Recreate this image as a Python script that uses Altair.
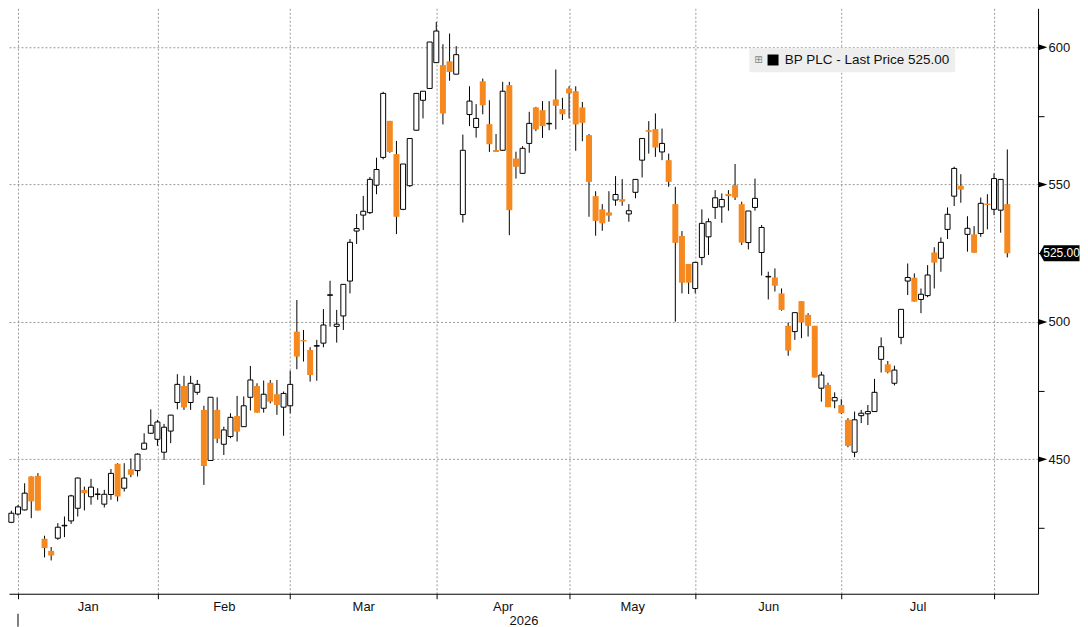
import altair as alt
import pandas as pd

# ---- data (trading-day index 0 = 31 Dec 2025) ----
OPEN = [427.1, 430.1, 431.6, 443.8, 444.0, 421.1, 416.7, 421.3, 425.8, 427.6,
        432.2, 438.9, 436.4, 437.2, 433.7, 437.2, 448.4, 439.5, 446.4, 445.9,
        453.7, 459.5, 457.3, 452.6, 460.3, 470.7, 476.7, 470.7, 474.4, 468.0,
        449.6, 468.0, 455.5, 458.3, 465.8, 461.9, 472.6, 476.7, 468.6, 477.9,
        473.7, 469.0, 469.5, 496.5, 493.4, 489.8, 491.2, 492.3, 509.7, 498.4,
        502.2, 514.9, 533.1, 538.9, 539.8, 549.8, 559.9, 573.2, 561.1, 541.0,
        549.6, 569.8, 580.7, 585.0, 594.4, 593.5, 594.9, 590.2, 539.1, 575.5,
        570.8, 587.6, 572.0, 562.6, 562.5, 586.2, 559.5, 554.1, 565.0, 578.1,
        577.1, 572.1, 581.0, 577.5, 585.0, 584.0, 578.1, 568.0, 545.8, 541.0,
        539.9, 544.4, 544.7, 539.3, 547.2, 558.9, 569.8, 570.2, 561.9, 558.9,
        542.9, 531.3, 521.1, 512.2, 523.5, 531.0, 541.7, 541.9, 546.6, 549.8,
        542.9, 528.9, 541.7, 525.3, 516.4, 516.2, 510.4, 498.6, 496.5, 507.6,
        502.6, 498.6, 475.9, 477.1, 471.3, 469.8, 464.4, 452.6, 465.9, 466.6,
        467.4, 486.4, 484.6, 477.7, 494.4, 514.9, 516.1, 508.2, 509.6, 525.3,
        523.2, 533.7, 545.8, 549.6, 531.9, 531.9, 532.2, 543.1, 541.0, 540.7,
        542.9]
HIGH = [431.3, 433.4, 441.3, 443.8, 445.0, 422.2, 418.1, 426.8, 429.2, 437.1,
        443.4, 440.1, 442.9, 439.5, 438.9, 446.5, 448.6, 448.6, 450.3, 452.2,
        459.5, 468.2, 464.4, 462.9, 466.2, 481.0, 480.4, 480.4, 478.9, 469.5,
        472.6, 472.6, 461.9, 466.8, 473.1, 472.9, 484.0, 477.7, 478.7, 478.9,
        478.9, 474.7, 482.3, 508.0, 497.1, 490.8, 493.5, 504.7, 515.0, 504.4,
        513.7, 530.2, 539.3, 545.9, 552.8, 559.8, 583.8, 573.2, 565.9, 557.5,
        566.8, 583.2, 584.0, 601.9, 609.2, 601.1, 605.0, 600.4, 568.2, 585.8,
        579.3, 588.6, 580.7, 568.4, 587.4, 587.4, 562.0, 564.0, 576.5, 578.3,
        580.4, 580.4, 591.9, 581.6, 585.8, 585.8, 580.1, 568.4, 547.6, 542.9,
        547.6, 553.1, 552.0, 542.9, 551.9, 566.8, 573.1, 575.9, 570.4, 561.3,
        549.2, 533.1, 521.1, 521.7, 541.0, 537.7, 548.0, 546.8, 548.0, 557.5,
        543.8, 540.4, 552.2, 535.3, 518.3, 519.5, 512.2, 499.8, 503.4, 507.6,
        503.2, 498.6, 481.9, 477.9, 474.4, 471.9, 465.0, 467.4, 468.0, 469.8,
        479.3, 494.4, 485.8, 484.1, 504.6, 521.3, 517.7, 512.2, 520.7, 527.2,
        530.8, 541.7, 556.5, 553.8, 538.5, 534.9, 545.3, 546.5, 554.1, 551.9,
        562.8]
LOW = [426.8, 429.5, 431.4, 428.6, 431.4, 414.3, 413.2, 420.7, 421.7, 426.5,
       429.2, 431.4, 433.5, 435.3, 432.5, 435.3, 434.7, 438.3, 443.5, 443.8,
       453.5, 459.3, 454.9, 449.8, 455.9, 468.2, 468.0, 468.0, 473.5, 440.7,
       449.6, 455.9, 451.6, 457.7, 456.5, 461.9, 467.8, 467.0, 467.0, 470.4,
       466.2, 458.6, 466.8, 482.8, 485.6, 478.3, 478.6, 490.8, 498.3, 492.5,
       497.1, 510.4, 528.4, 533.5, 539.3, 546.5, 559.2, 561.6, 532.0, 540.7,
       549.2, 569.6, 574.1, 585.0, 594.4, 571.9, 587.8, 590.2, 536.2, 571.3,
       567.1, 575.6, 561.9, 561.9, 562.3, 531.6, 552.2, 554.1, 561.6, 569.5,
       567.0, 569.8, 570.1, 573.5, 574.1, 562.3, 565.8, 538.3, 531.4, 533.2,
       536.5, 542.3, 542.3, 536.5, 545.0, 552.6, 561.3, 560.1, 558.9, 549.2,
       500.1, 510.4, 510.2, 510.4, 520.7, 524.4, 537.5, 536.1, 540.5, 544.4,
       528.0, 526.4, 540.5, 516.9, 508.2, 511.1, 504.1, 487.7, 493.5, 494.1,
       494.7, 479.8, 471.0, 469.0, 468.6, 466.5, 454.4, 450.8, 463.2, 462.5,
       467.4, 481.6, 481.3, 476.9, 491.9, 509.8, 507.4, 503.2, 509.0, 512.2,
       518.3, 530.2, 542.2, 543.4, 525.6, 525.2, 531.0, 533.7, 538.9, 532.5,
       523.5]
CLOSE = [430.4, 432.7, 437.7, 434.7, 431.4, 417.7, 415.0, 425.3, 426.0, 436.7,
         443.2, 437.7, 439.9, 437.4, 437.3, 444.9, 436.5, 443.2, 444.4, 451.9,
         455.9, 462.4, 463.6, 461.7, 466.1, 477.3, 468.9, 477.7, 477.3, 447.6,
         472.6, 457.5, 460.7, 465.3, 460.1, 469.5, 478.9, 467.0, 473.7, 471.0,
         469.8, 474.0, 477.3, 487.4, 492.9, 480.7, 491.4, 498.9, 509.9, 499.2,
         513.7, 529.0, 534.0, 540.3, 551.9, 555.5, 583.2, 561.9, 538.3, 557.5,
         566.8, 583.2, 584.0, 601.9, 605.9, 575.9, 591.0, 597.3, 562.5, 580.4,
         574.1, 578.9, 564.7, 561.9, 584.0, 540.7, 556.5, 563.2, 572.3, 570.1,
         571.3, 572.3, 578.7, 575.6, 583.2, 571.9, 572.5, 551.0, 536.8, 535.9,
         538.7, 546.4, 543.8, 540.5, 551.9, 566.8, 569.2, 563.5, 565.0, 551.0,
         528.8, 514.3, 514.3, 521.7, 535.9, 536.5, 545.2, 544.6, 545.8, 545.3,
         528.9, 540.4, 545.0, 534.4, 516.6, 513.2, 504.4, 489.6, 503.4, 499.8,
         498.6, 479.8, 480.7, 469.0, 472.5, 466.8, 454.9, 464.4, 466.8, 467.4,
         474.4, 491.0, 481.7, 482.5, 504.6, 516.2, 507.4, 510.1, 517.1, 521.6,
         529.0, 539.2, 555.9, 548.2, 534.1, 525.2, 543.2, 542.6, 552.2, 551.9,
         525.0]

MONTH_START_IDX = [1, 22, 42, 64, 84, 103, 125, 148]   # first trading day of Jan..Aug
MONTH_NAMES = ["Jan", "Feb", "Mar", "Apr", "May", "Jun", "Jul"]
YEAR_LABEL = "2026"
PRICE_TICKS = [425, 450, 475, 500, 525, 550, 575, 600]
PRICE_LABELS = [450, 500, 550, 600]
LAST_PRICE = 525.00
SERIES_NAME = "BP PLC - Last Price 525.00"

UP_COLOR = "white"
DOWN_COLOR = "#f5891f"
FONT = "Liberation Sans"

df = pd.DataFrame({"i": list(range(len(OPEN))), "o": OPEN, "h": HIGH, "l": LOW, "c": CLOSE})
df["dir"] = ["up" if c >= o else "down" for o, c in zip(OPEN, CLOSE)]

mids = [(a + b) / 2 for a, b in zip(MONTH_START_IDX[:-1], MONTH_START_IDX[1:])]
x_values = sorted(MONTH_START_IDX + mids)
start_test = "indexof([" + ",".join(str(v) for v in MONTH_START_IDX) + "], datum.value) >= 0"
label_expr = " : ".join(f"datum.value == {m} ? '{n}'" for m, n in zip(mids, MONTH_NAMES)) + " : ''"

xs = alt.Scale(domain=[-0.354, 154.63], nice=False, zero=False, padding=0)
ys = alt.Scale(domain=[401.09, 614.18], nice=False, zero=False, padding=0)

x_axis = alt.Axis(
    values=x_values, labelExpr=label_expr, grid=True,
    gridColor="#9a9a9a", gridDash=[2, 2], gridWidth=1,
    gridOpacity={"condition": {"test": start_test, "value": 1}, "value": 0},
    tickOpacity={"condition": {"test": start_test, "value": 1}, "value": 0},
    tickSize=5, tickColor="black", domainColor="black", domainWidth=1,
    labelFont=FONT, labelFontSize=13, labelColor="#111111", labelPadding=2,
    labelFlush=False, labelOverlap=False,
    title=YEAR_LABEL, titleFont=FONT, titleFontSize=13, titleFontWeight="normal",
    titleColor="#111111", titlePadding=1,
)
y_axis = alt.Axis(
    orient="right", values=PRICE_TICKS,
    labelExpr="datum.value % 50 == 0 ? datum.label : ''",
    grid=True, gridColor="#9a9a9a", gridDash=[2, 2], gridWidth=1,
    gridOpacity={"condition": {"test": "datum.value % 50 == 0", "value": 1}, "value": 0},
    tickSize=6, tickColor="black", domainColor="black", domainWidth=1,
    labelFont=FONT, labelFontSize=13, labelColor="#111111", labelPadding=4,
    title=None,
)

base = alt.Chart(df)

wicks = base.mark_rule(color="black", strokeWidth=1).encode(
    x=alt.X("i:Q", scale=xs, axis=x_axis),
    y=alt.Y("l:Q", scale=ys, axis=y_axis),
    y2="h:Q",
)
up_bodies = base.transform_filter("datum.dir == 'up'").mark_bar(
    size=5, fill=UP_COLOR, stroke="black", strokeWidth=1
).encode(x=alt.X("i:Q", scale=xs), y=alt.Y("o:Q", scale=ys), y2="c:Q")
down_bodies = base.transform_filter("datum.dir == 'down'").mark_bar(
    size=6, fill=DOWN_COLOR, strokeWidth=0
).encode(x=alt.X("i:Q", scale=xs), y=alt.Y("o:Q", scale=ys), y2="c:Q")

# year separator below the axis
year_df = pd.DataFrame({"i": [MONTH_START_IDX[0]]})
year_rule = alt.Chart(year_df).mark_rule(color="black", strokeWidth=1, clip=False).encode(
    x=alt.X("i:Q", scale=xs), y=alt.value(606), y2=alt.value(619)
)

# arrow markers on the major price ticks
tri_df = pd.DataFrame({"p": PRICE_LABELS})
triangles = alt.Chart(tri_df).mark_point(
    shape="M -1 -0.66 L 1 0 L -1 0.66 Z", filled=True, color="black",
    size=81, opacity=1, clip=False
).encode(x=alt.value(1034.8), y=alt.Y("p:Q", scale=ys))

# last price flag + legend (flag kept inside the 1080px drawable width)
last_df = pd.DataFrame({"price": [LAST_PRICE], "series": [SERIES_NAME],
                        "label": [f"{LAST_PRICE:.2f}"]})
flag = alt.Chart(last_df).mark_point(
    shape="M -1 0 L -0.78 -0.4 L 1 -0.4 L 1 0.4 L -0.78 0.4 Z",
    filled=True, size=1600, opacity=1, clip=False
).encode(
    x=alt.value(1051.5),
    y=alt.Y("price:Q", scale=ys),
    color=alt.Color("series:N", scale=alt.Scale(range=["black"]), legend=alt.Legend(
        orient="none", legendX=741, legendY=40,
        title="⊞", titleOrient="left", titleFont="DejaVu Sans", titleFontSize=10,
        titleFontWeight="normal", titleColor="#888888", titlePadding=3,
        symbolType="square", symbolSize=121, symbolStrokeWidth=0,
        labelFont=FONT, labelFontSize=13.5, labelColor="#111111", labelLimit=400,
        labelOffset=5, fillColor="#eeeeee", padding=5,
    )),
)
flag_text = alt.Chart(last_df).mark_text(
    color="white", font=FONT, fontSize=12, align="center", baseline="middle", clip=False
).encode(x=alt.value(1053.5), y=alt.Y("price:Q", scale=ys), text="label:N")

chart = alt.layer(
    wicks, up_bodies, down_bodies, year_rule, triangles, flag, flag_text
).properties(
    width=1030, height=586, padding=0, background="white"
).configure_view(stroke=None)

chart.save("out.html", embed_options={"renderer": "svg", "actions": False})
